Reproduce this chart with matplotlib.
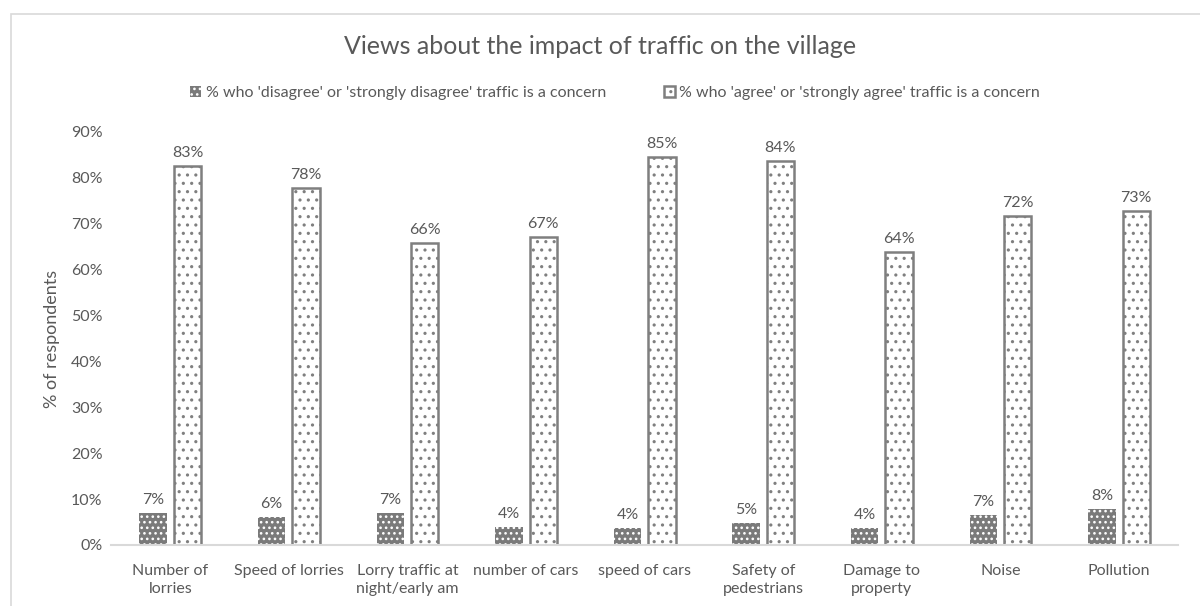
import matplotlib
matplotlib.use("Agg")
import matplotlib.pyplot as plt
from matplotlib.patches import Rectangle
import numpy as np

plt.rcParams['font.family'] = ['Lato', 'DejaVu Sans']
plt.rcParams['hatch.linewidth'] = 1.1

categories = ["Number of\nlorries", "Speed of lorries", "Lorry traffic at\nnight/early am",
              "number of cars", "speed of cars", "Safety of\npedestrians",
              "Damage to\nproperty", "Noise", "Pollution"]
disagree = [7.0, 6.2, 7.0, 4.0, 3.6, 4.8, 3.6, 6.6, 7.8]
agree = [82.6, 77.8, 65.9, 67.2, 84.6, 83.7, 63.8, 71.8, 72.7]
series_names = ["% who 'disagree' or 'strongly disagree' traffic is a concern",
                "% who 'agree' or 'strongly agree' traffic is a concern"]
yticks = [0, 10, 20, 30, 40, 50, 60, 70, 80, 90]

txt = "#595959"
fig = plt.figure(figsize=(12, 6.06), dpi=100)
ax = fig.add_axes([0.0925, 0.1007, 0.8895, 0.6815])

# frame
fig.patches.append(Rectangle((11/1200, -0.05), 1.2, 1 - 14/606 + 0.05, transform=fig.transFigure,
                             fill=False, edgecolor="#d9d9d9", linewidth=1.2))

x = np.arange(len(categories))
w = 0.23
off = 0.145
b1 = ax.bar(x - off, disagree, w, color="#7a7a7a", edgecolor="white", linewidth=0,
            hatch="...", label=series_names[0])
b2 = ax.bar(x + off, agree, w, color="white", edgecolor="#7f7f7f", linewidth=1.8,
            hatch="..", label=series_names[1])

for rect, v in zip(b1, disagree):
    ax.text(rect.get_x() + rect.get_width()/2, v + 1.3, f"{round(v)}%", ha="center", va="bottom",
            fontsize=11.5, color=txt)
for rect, v in zip(b2, agree):
    ax.text(rect.get_x() + rect.get_width()/2, v + 1.3, f"{round(v)}%", ha="center", va="bottom",
            fontsize=11.5, color=txt)

ax.set_xlim(-0.5, len(categories) - 0.5)
ax.set_ylim(0, 90)
ax.set_yticks(yticks)
ax.set_yticklabels([f"{t}%" for t in yticks], fontsize=11.5, color=txt)
ax.set_xticks(x)
ax.set_xticklabels(categories, fontsize=11.5, color=txt, linespacing=1.3)
ax.tick_params(axis="both", length=0)
ax.tick_params(axis="x", pad=14)
ax.tick_params(axis="y", pad=6)
for s in ["top", "right", "left"]:
    ax.spines[s].set_visible(False)
ax.spines["bottom"].set_color("#d9d9d9")
ax.spines["bottom"].set_linewidth(1.5)
ax.set_ylabel("% of respondents", fontsize=13, color=txt, labelpad=8)

fig.text(0.5, 1 - 46/606, "Views about the impact of traffic on the village", ha="center", va="center",
         fontsize=18, color=txt)
fig.legend(handles=[b1, b2], loc="center", bbox_to_anchor=(0.5125, 1 - 93/606), ncol=2, frameon=False,
           fontsize=11.5, labelcolor=txt, handlelength=0.7, handleheight=0.7, handletextpad=0.3,
           columnspacing=3.6)

fig.savefig("out.png", dpi=100)
